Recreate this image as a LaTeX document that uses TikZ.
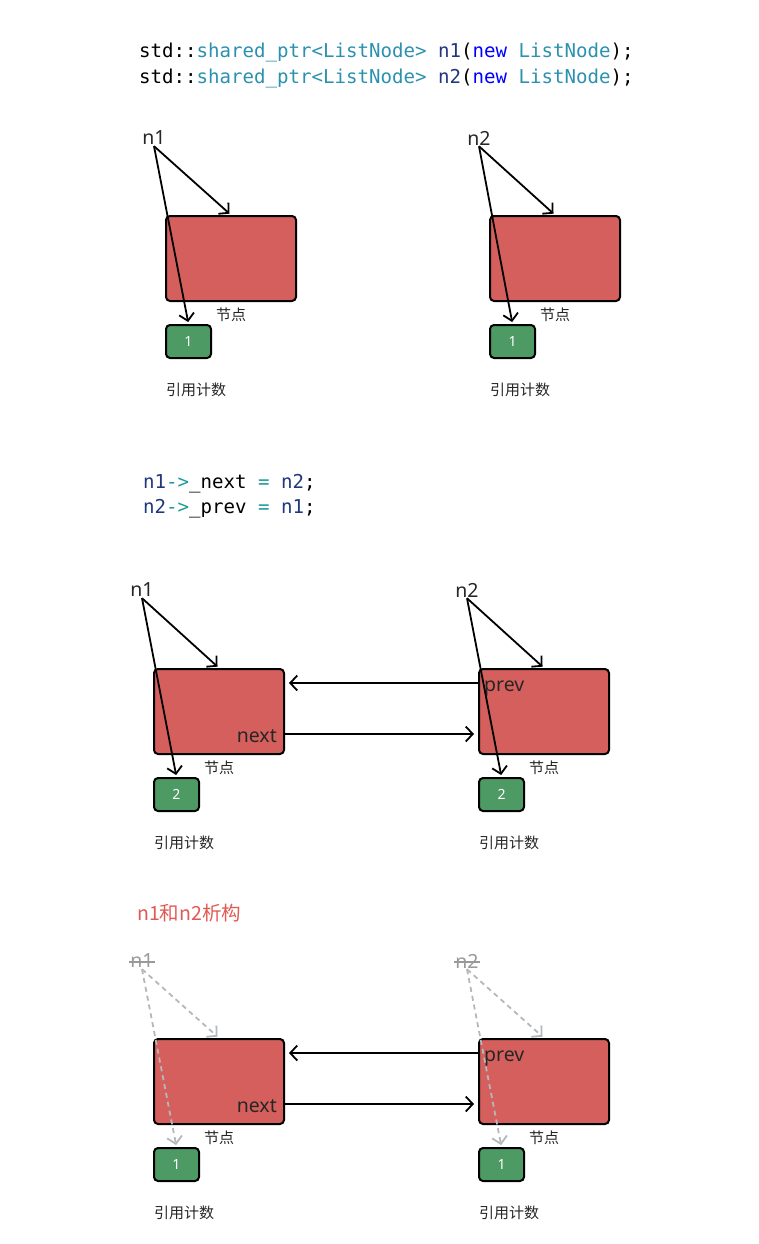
\documentclass[tikz,border=0pt]{standalone}
\usepackage{fontspec}
\setmainfont{Noto Sans}
\newfontfamily\cjk{Noto Sans CJK SC}
\newfontfamily\codefont{DejaVu Sans Mono}
\usetikzlibrary{positioning,arrows.meta}

\definecolor{nodered}{HTML}{D45F5C}
\definecolor{cntgreen}{HTML}{4E9A64}
\definecolor{cdteal}{HTML}{2B91AF}
\definecolor{cdnavy}{HTML}{1F377F}
\definecolor{cdblue}{HTML}{0000FF}
\definecolor{cdop}{HTML}{1E9A9A}
\definecolor{gonegray}{HTML}{B4B7BB}
\definecolor{titlered}{HTML}{E05A55}

\begin{document}
\begin{tikzpicture}[
  x=1pt,y=-1pt,
  nodebox/.style={draw,line width=2pt,fill=nodered,rounded corners=4pt,minimum width=130pt,minimum height=85pt,inner sep=0pt},
  cntbox/.style={draw,line width=2pt,fill=cntgreen,rounded corners=4pt,minimum width=45pt,minimum height=33pt,inner sep=0pt,text=white,font=\fontsize{14}{16}\selectfont},
  code/.style={anchor=base west,inner sep=0pt,font=\codefont\fontsize{19.1}{26}\selectfont,align=left},
  ptr/.style={inner sep=1pt,font=\fontsize{19.5}{22}\selectfont,text=black!85},
  small/.style={inner sep=1pt,font=\cjk\fontsize{15}{17}\selectfont,text=black!85},
  field/.style={inner sep=0pt,font=\fontsize{19.5}{22}\selectfont,text=black!85},
  ar/.style={-{Straight Barb[length=7pt,width=15pt]},line width=1.8pt,shorten >=2pt},
  gone/.style={ar,dashed,dash pattern=on 5pt off 4pt,gonegray},
  strike/.style={line width=1.2pt,gray!80}
]
\useasboundingbox (0,0) rectangle (758,1244);

% code: make the two nodes
\node[code] (mk1) at (139,58) {std::\textcolor{cdteal}{shared\_ptr<ListNode>} \textcolor{cdnavy}{n1}(\textcolor{cdblue}{new} \textcolor{cdteal}{ListNode});};
\node[code] (mk2) at (139,84) {std::\textcolor{cdteal}{shared\_ptr<ListNode>} \textcolor{cdnavy}{n2}(\textcolor{cdblue}{new} \textcolor{cdteal}{ListNode});};

% first state
\node[nodebox] (a1) at (231,258.5) {};
\node[cntbox,below=22pt of a1.south west,anchor=north west] (c1) {1};
\node[small,below=5pt of a1.south] {节点};
\node[small,below=23pt of c1.south west,anchor=north west] (r1) {引用计数};
\node[ptr] (p1) at (154,138) {n1};
\draw[ar] (p1.south) -- (a1.north);
\draw[ar] (p1.south) -- (c1.north);

\node[nodebox] (b1) at (555,258.5) {};
\node[cntbox,below=22pt of b1.south west,anchor=north west] (d1) {1};
\node[small,below=5pt of b1.south] {节点};
\node[small,below=23pt of d1.south west,anchor=north west] (s1) {引用计数};
\node[ptr] (q1) at (479,138) {n2};
\draw[ar] (q1.south) -- (b1.north);
\draw[ar] (q1.south) -- (d1.north);

% code: link them
\node[code] (ln1) at (143,488) {\textcolor{cdnavy}{n1}\textcolor{cdop}{->}\_next \textcolor{cdop}{=} \textcolor{cdnavy}{n2};};
\node[code] (ln2) at (143,513) {\textcolor{cdnavy}{n2}\textcolor{cdop}{->}\_prev \textcolor{cdop}{=} \textcolor{cdnavy}{n1};};

% second state
\node[nodebox] (a2) at (219,711.5) {};
\node[cntbox,below=22pt of a2.south west,anchor=north west] (c2) {2};
\node[small,below=5pt of a2.south] {节点};
\node[small,below=23pt of c2.south west,anchor=north west] (r2) {引用计数};
\node[ptr] (p2) at (142,590) {n1};
\node[field,anchor=east] (nx2) at (277,736) {next};
\draw[ar] (p2.south) -- (a2.north);
\draw[ar] (p2.south) -- (c2.north);

\node[nodebox] (b2) at (544,711.5) {};
\node[cntbox,below=22pt of b2.south west,anchor=north west] (d2) {2};
\node[small,below=5pt of b2.south] {节点};
\node[small,below=23pt of d2.south west,anchor=north west] (s2) {引用计数};
\node[ptr] (q2) at (467,590) {n2};
\node[field,anchor=west] (pv2) at (484,689) {prev};
\draw[ar] (q2.south) -- (b2.north);
\draw[ar] (q2.south) -- (d2.north);

\draw[ar,shorten >=4pt] (a2.east |- 0,734) -- (b2.west |- 0,734);
\draw[ar,shorten >=4pt] (b2.west |- 0,683) -- (a2.east |- 0,683);

% after destruction
\node[anchor=west,inner sep=0pt,text=titlered,font=\cjk\fontsize{19.5}{22}\selectfont] (ttl) at (137,913) {n1和n2析构};

\node[nodebox] (a3) at (219,1081.5) {};
\node[cntbox,below=22pt of a3.south west,anchor=north west] (c3) {1};
\node[small,below=5pt of a3.south] {节点};
\node[small,below=23pt of c3.south west,anchor=north west] (r3) {引用计数};
\node[ptr,text=gray!80] (p3) at (142,961) {n1};
\draw[strike] ([yshift=-1pt]p3.west) -- ([yshift=-1pt]p3.east);
\node[field,anchor=east] (nx3) at (277,1106) {next};
\draw[gone] (p3.south) -- (a3.north);
\draw[gone] (p3.south) -- (c3.north);

\node[nodebox] (b3) at (544,1081.5) {};
\node[cntbox,below=22pt of b3.south west,anchor=north west] (d3) {1};
\node[small,below=5pt of b3.south] {节点};
\node[small,below=23pt of d3.south west,anchor=north west] (s3) {引用计数};
\node[ptr,text=gray!80] (q3) at (467,961) {n2};
\draw[strike] ([yshift=-1pt]q3.west) -- ([yshift=-1pt]q3.east);
\node[field,anchor=west] (pv3) at (484,1059) {prev};
\draw[gone] (q3.south) -- (b3.north);
\draw[gone] (q3.south) -- (d3.north);

\draw[ar,shorten >=4pt] (a3.east |- 0,1104) -- (b3.west |- 0,1104);
\draw[ar,shorten >=4pt] (b3.west |- 0,1053) -- (a3.east |- 0,1053);
\end{tikzpicture}
\end{document}
